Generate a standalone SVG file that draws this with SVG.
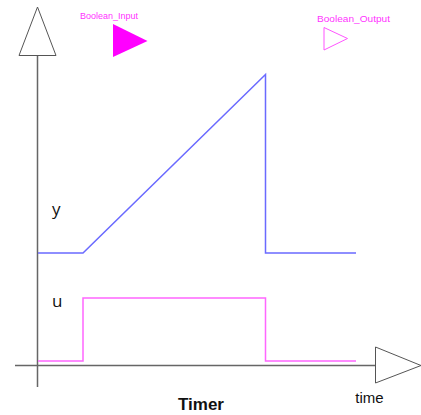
<svg xmlns="http://www.w3.org/2000/svg" width="421" height="415" viewBox="0 0 421 415">
<style>
.axis{fill:none;stroke:#666;stroke-width:1.5}
.arrow{fill:#fff;stroke:#555;stroke-width:1}
.sig{font-family:"Open Sans","DejaVu Sans",sans-serif;font-size:17px;fill:#111}
.port{font-family:"Liberation Sans",Arial,sans-serif;font-size:9px;fill:#ff33ff}
</style>
<rect width="421" height="415" fill="#fff"/>
<g id="axes">
<line class="axis" x1="37.5" y1="56" x2="37.5" y2="387"/>
<line class="axis" x1="15" y1="365.5" x2="376" y2="365.5"/>
<polygon class="arrow" points="37.5,7 19,55.5 56,55.5"/>
<polygon class="arrow" points="375.5,347 375.5,383 421,365.5"/>
<text x="369.5" y="402.5" text-anchor="middle" font-family="Liberation Sans,Arial,sans-serif" font-size="15" fill="#111">time</text>
</g>
<g id="connectors">
<polyline fill="none" stroke="#6a6aff" stroke-width="1.5" points="38,253 83,253 265.5,74.5 265.5,253 356,253"/>
<polyline fill="none" stroke="#ff66ff" stroke-width="1.5" points="38,361 83,361 83,298 265.5,298 265.5,361 356,361"/>
</g>
<g id="label-y"><text class="sig" x="52" y="215">y</text></g>
<g id="label-u"><text class="sig" x="52" y="307">u</text></g>
<g id="Boolean_Input">
<text class="port" x="80" y="18.5" textLength="58" lengthAdjust="spacingAndGlyphs">Boolean_Input</text>
<polygon points="113,24 113,57 147.5,41" fill="#ff00ff"/>
</g>
<g id="Boolean_Output">
<text class="port" x="317" y="22" textLength="73" lengthAdjust="spacingAndGlyphs">Boolean_Output</text>
<polygon points="324,27.5 324,50 347.5,38.5" fill="none" stroke="#ff55ff" stroke-width="1"/>
</g>
<g id="title"><text x="201" y="410" text-anchor="middle" font-family="Liberation Sans,Arial,sans-serif" font-size="17" font-weight="bold" fill="#111">Timer</text></g>
</svg>
